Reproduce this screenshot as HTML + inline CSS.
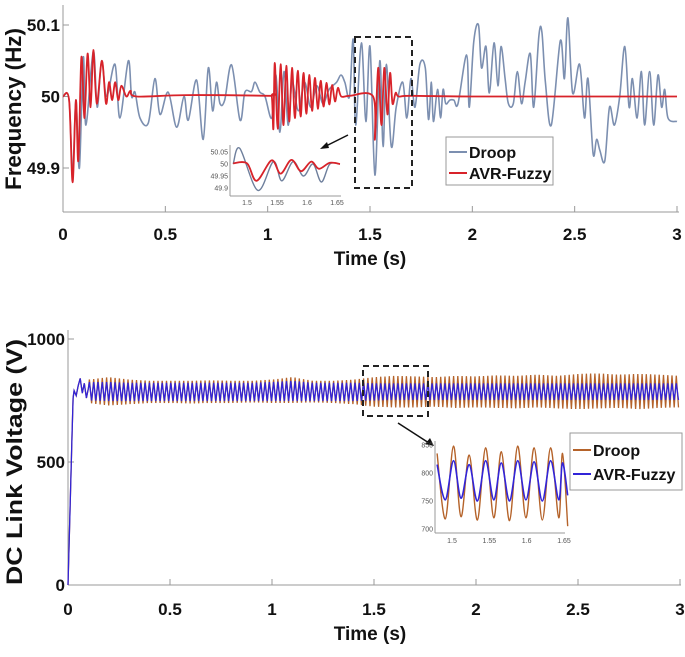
<!DOCTYPE html>
<html><head><meta charset="utf-8"><style>
html,body{margin:0;padding:0;background:#fff;}
svg{display:block;font-family:"Liberation Sans",Arial,sans-serif;}
.tk{font-size:17px;font-weight:bold;fill:#111;}
.ttl{font-size:19px;font-weight:bold;fill:#111;}
.yt{font-size:22px;font-weight:bold;fill:#111;}
.lg{font-size:16px;font-weight:bold;fill:#111;}
.it{font-size:7px;fill:#555;}
</style></head><body>
<svg id="chart" width="685" height="657" viewBox="0 0 685 657"></svg>
<script>
// ---------- Top plot data (frequency, Hz) ----------
const droopT=[0,0.03,0.047,0.063,0.08,0.099,0.112,0.148,0.167,0.189,0.213,0.254,0.278,0.319,0.335,0.352,0.376,0.417,0.449,0.474,0.514,0.555,0.591,0.612,0.653,0.685,0.71,0.731,0.75,0.767,0.79,0.824,0.865,0.889,0.921,0.938,0.962,0.987,1.02,1.04,1.06,1.08,1.10,1.12,1.15,1.18,1.21,1.24,1.27,1.30,1.337,1.358,1.377,1.40,1.418,1.43,1.458,1.48,1.50,1.524,1.548,1.564,1.58,1.604,1.628,1.66,1.68,1.70,1.72,1.744,1.77,1.786,1.80,1.81,1.83,1.845,1.857,1.87,1.89,1.91,1.93,1.972,1.985,2.007,2.03,2.045,2.067,2.083,2.106,2.125,2.14,2.16,2.176,2.20,2.22,2.24,2.258,2.283,2.30,2.325,2.34,2.357,2.386,2.43,2.45,2.467,2.49,2.524,2.548,2.565,2.59,2.607,2.623,2.647,2.67,2.694,2.72,2.745,2.766,2.782,2.805,2.826,2.842,2.866,2.886,2.907,2.925,2.94,2.956,3.0];
const droopF=[50,49.995,49.89,49.995,49.9,50.055,49.96,50.063,49.985,50.05,50.0,50.045,49.97,50.05,50.0,50.006,49.97,49.963,50.025,49.975,50.006,49.957,50.0,49.967,50.023,49.94,50.04,49.98,50.02,49.99,49.995,50.044,49.967,50.006,50.007,50.02,50.006,50.0,49.97,50.03,49.95,50.035,49.96,50.02,49.98,50.02,49.985,50.015,49.99,50.01,50.02,50.03,50.02,50.0,50.08,49.96,50.075,49.965,50.07,49.89,50.05,49.93,50.045,49.93,49.985,50.02,49.97,50.025,49.985,50.045,50.04,49.968,50.02,49.965,50.01,49.97,50.01,49.99,49.995,49.995,49.99,50.058,49.985,50.077,50.1,50.04,50.07,50.005,50.075,50.015,50.07,50.025,49.99,49.99,50.035,49.99,50.02,50.06,49.985,50.085,50.09,50.02,49.96,50.078,50.025,50.11,50.005,50.045,49.97,50.025,49.92,49.94,49.925,49.91,49.985,49.96,50.0,50.07,49.985,50.025,49.97,50.035,49.96,50.035,49.96,50.03,49.985,50.01,49.97,49.965];
const avrT=[0,0.03,0.047,0.063,0.075,0.09,0.105,0.12,0.135,0.148,0.165,0.19,0.21,0.225,0.24,0.255,0.27,0.285,0.31,0.33,0.36,0.6,1.0,1.02,1.028,1.035,1.049,1.063,1.077,1.091,1.105,1.119,1.133,1.147,1.161,1.175,1.189,1.203,1.217,1.231,1.245,1.259,1.273,1.287,1.301,1.315,1.329,1.343,1.36,1.4,1.515,1.524,1.54,1.556,1.57,1.585,1.598,1.61,1.625,1.64,1.7,2.0,2.5,3.0];
const avrF=[50,49.995,49.88,49.995,49.91,50.055,49.97,50.06,49.985,50.065,49.99,50.05,49.99,50.02,49.995,50.02,49.995,50.015,50.0,50.008,50.0,50.002,50.001,50.0,49.955,50.047,49.955,50.045,49.96,50.043,49.965,50.04,49.97,50.036,49.972,50.033,49.976,50.03,49.98,50.026,49.983,50.022,49.986,50.019,49.989,50.016,49.993,50.012,50.0,50.001,50.0,49.94,50.04,49.96,50.04,49.975,50.033,49.99,50.005,50.0,50.001,50.0,50.0,50.0];
const freqTicks=[49.9,50,50.1];
const freqTickLabels=["49.9","50","50.1"];
const timeTicks=[0,0.5,1,1.5,2,2.5,3];
const timeTickLabels=["0","0.5","1","1.5","2","2.5","3"];
// inset (top)
const insDroopT=[1.477,1.488,1.518,1.544,1.558,1.577,1.594,1.61,1.624,1.638,1.655];
const insDroopF=[50,50.065,49.89,50.01,49.93,50.01,49.95,50.0,49.925,50.0,50.0];
const insAvrT=[1.477,1.5,1.516,1.541,1.556,1.574,1.59,1.607,1.62,1.638,1.655];
const insAvrF=[50.003,50.003,49.93,50.015,49.96,50.017,49.97,50.01,49.98,50.005,50.0];
const insFTicks=[49.9,49.95,50,50.05];
const insFLabels=["49.9","49.95","50","50.05"];
const insTTicks=[1.5,1.55,1.6,1.65];
const insTLabels=["1.5","1.55","1.6","1.65"];
// ---------- Bottom plot data (DC link voltage, V) ----------
const startT=[0,0.01,0.02,0.025,0.03,0.04,0.05,0.06,0.07,0.08,0.09,0.1];
const startV=[0,300,620,760,790,770,810,840,780,820,760,800];
const envT=[0.1,0.2,0.3,0.4,0.5,0.6,0.7,0.8,0.9,1.0,1.1,1.2,1.3,1.4,1.5,1.6,1.7,1.8,1.9,2.0,2.1,2.2,2.3,2.4,2.5,2.6,2.7,2.8,2.9,3.0];
const droopHi=[835,845,835,830,830,830,832,830,830,835,845,830,830,835,845,850,848,845,850,848,852,850,855,850,858,860,855,858,855,850];
const droopLo=[740,730,735,740,740,738,740,740,742,740,740,742,740,735,725,722,722,725,720,722,720,718,722,718,715,718,720,715,720,722];
const fuzzyHi=[825,825,822,822,822,822,822,822,822,825,830,822,822,822,820,820,820,820,820,820,820,820,820,820,820,820,820,820,820,820];
const fuzzyLo=[750,748,748,748,748,748,748,748,748,748,748,748,748,748,750,752,752,752,752,752,752,752,752,752,752,752,752,752,752,752];
const voltTicks=[0,500,1000];
const voltTickLabels=["0","500","1000"];
const insVT=[1.48,1.491,1.502,1.512,1.523,1.534,1.545,1.556,1.566,1.577,1.588,1.599,1.61,1.621,1.632,1.643,1.648,1.655];
const insDroopV=[835,718,848,722,832,716,845,720,838,715,848,720,845,716,845,720,835,705];
const insFuzzyV=[815,752,822,755,815,750,822,752,818,750,822,752,820,750,822,752,818,760];
const insVTicks=[700,750,800,850];
const insVLabels=["700","750","800","850"];

(function(){
const NS="http://www.w3.org/2000/svg";
const svg=document.getElementById('chart');
function mk(tag,attrs,parent){const e=document.createElementNS(NS,tag);for(const k in attrs)e.setAttribute(k,attrs[k]);(parent||svg).appendChild(e);return e;}
function txt(s,attrs,parent){const e=mk('text',attrs,parent);e.textContent=s;return e;}
function smoothPath(xs,ys){const n=Math.min(xs.length,ys.length);let d='M'+xs[0].toFixed(1)+','+ys[0].toFixed(1);for(let i=0;i<n-1;i++){const x0=xs[Math.max(0,i-1)],y0=ys[Math.max(0,i-1)],x1=xs[i],y1=ys[i],x2=xs[i+1],y2=ys[i+1],x3=xs[Math.min(n-1,i+2)],y3=ys[Math.min(n-1,i+2)];const c1x=x1+(x2-x0)/6,c1y=y1+(y2-y0)/6,c2x=x2-(x3-x1)/6,c2y=y2-(y3-y1)/6;d+=' C'+c1x.toFixed(1)+','+c1y.toFixed(1)+' '+c2x.toFixed(1)+','+c2y.toFixed(1)+' '+x2.toFixed(1)+','+y2.toFixed(1);}return d;}
function lin(d0,d1,r0,r1){return v=>r0+(v-d0)/(d1-d0)*(r1-r0);}

// ===== TOP =====
const tx=lin(0,3,63,677), fy=lin(49.9,50.1,168,25);
const topG=mk('g',{});


let a=mk('line',{x1:63,y1:5,x2:63,y2:212,stroke:'#999','stroke-width':1},topG);


a=mk('line',{x1:63,y1:212,x2:679,y2:212,stroke:'#999','stroke-width':1},topG);


timeTicks.forEach((t,i)=>{const x=tx(t);mk('line',{x1:x,y1:212,x2:x,y2:206,stroke:'#999'},topG);const l=txt(timeTickLabels[i],{x:x,y:240,'text-anchor':'middle',class:'tk'},topG);

});
freqTicks.forEach((f,i)=>{const y=fy(f);mk('line',{x1:63,y1:y,x2:69,y2:y,stroke:'#999'},topG);const l=txt(freqTickLabels[i],{x:60,y:y+6,'text-anchor':'end',class:'tk'},topG);

});
let t1=txt('Time (s)',{x:370,y:265,'text-anchor':'middle',class:'ttl'},topG);


t1=txt('Frequency (Hz)',{x:0,y:0,'text-anchor':'middle',class:'yt',textLength:162,lengthAdjust:'spacingAndGlyphs',transform:'translate(21,109) rotate(-90)'},topG);


let p=mk('path',{d:smoothPath(droopT.map(tx),droopF.map(fy)),fill:'none',stroke:'#7c8fb0','stroke-width':1.6},topG);


p=mk('path',{d:smoothPath(avrT.map(tx),avrF.map(fy)),fill:'none',stroke:'#d8232a','stroke-width':1.8},topG);


let r=mk('rect',{x:355,y:37,width:57,height:151,fill:'none',stroke:'#222','stroke-width':2,'stroke-dasharray':'6,4'},topG);


let ar=mk('line',{x1:348,y1:135,x2:324,y2:147,stroke:'#111','stroke-width':1.5},topG);


mk('polygon',{points:'320,149 327,142 329,148',fill:'#111'},topG);
const ix=lin(1.5,1.65,247,337), iy=lin(49.9,50.05,188,152);
const ins=mk('g',{},topG);


mk('line',{x1:230,y1:145,x2:230,y2:196,stroke:'#999'},ins); mk('line',{x1:230,y1:196,x2:341,y2:196,stroke:'#999'},ins);
insFTicks.forEach((f,i)=>{const l=txt(insFLabels[i],{x:228,y:iy(f)+2.5,'text-anchor':'end',class:'it'},ins);

});
insTTicks.forEach((t,i)=>{const l=txt(insTLabels[i],{x:ix(t),y:205,'text-anchor':'middle',class:'it'},ins);

});
p=mk('path',{d:smoothPath(insDroopT.map(ix),insDroopF.map(iy)),fill:'none',stroke:'#6e7f9c','stroke-width':1.4},ins);


p=mk('path',{d:smoothPath(insAvrT.map(ix),insAvrF.map(iy)),fill:'none',stroke:'#d8232a','stroke-width':1.8},ins);


const lg=mk('g',{},topG);


mk('rect',{x:446,y:137,width:107,height:48,fill:'#fff',stroke:'#999'},lg);
mk('line',{x1:449,y1:152,x2:467,y2:152,stroke:'#7c8fb0','stroke-width':2},lg);
let le=txt('Droop',{x:469,y:158,class:'lg'},lg);


mk('line',{x1:449,y1:173,x2:467,y2:173,stroke:'#d8232a','stroke-width':2},lg);
le=txt('AVR-Fuzzy',{x:469,y:179,class:'lg'},lg);



// ===== BOTTOM =====
const bx=lin(0,3,68,680), vy=lin(0,1000,585,339);
const bot=mk('g',{});


a=mk('line',{x1:68,y1:330,x2:68,y2:585,stroke:'#999'},bot);


a=mk('line',{x1:68,y1:585,x2:681,y2:585,stroke:'#999'},bot);


timeTicks.forEach((t,i)=>{const x=bx(t);mk('line',{x1:x,y1:585,x2:x,y2:579,stroke:'#999'},bot);const l=txt(timeTickLabels[i],{x:x,y:615,'text-anchor':'middle',class:'tk'},bot);

});
voltTicks.forEach((v,i)=>{const y=vy(v);mk('line',{x1:68,y1:y,x2:74,y2:y,stroke:'#999'},bot);const l=txt(voltTickLabels[i],{x:65,y:y+6,'text-anchor':'end',class:'tk'},bot);

});
t1=txt('Time (s)',{x:370,y:640,'text-anchor':'middle',class:'ttl'},bot);


t1=txt('DC Link Voltage (V)',{x:0,y:0,'text-anchor':'middle',class:'yt',textLength:246,lengthAdjust:'spacingAndGlyphs',transform:'translate(22,462) rotate(-90)'},bot);


function envAt(arr,t){if(t<=envT[0])return arr[0];for(let i=0;i<envT.length-1;i++){if(t<=envT[i+1]){const f=(t-envT[i])/(envT[i+1]-envT[i]);return arr[i]+f*(arr[i+1]-arr[i]);}}return arr[arr.length-1];}
function zig(hi,lo,phase){let pts=startT.map((t,i)=>[bx(t),vy(startV[i])]);let k=phase;for(let t=0.105;t<=3.0001;t+=0.0105){pts.push([bx(t),vy(k%2===0?envAt(hi,t):envAt(lo,t))]);k++;}return pts.map(q=>q[0].toFixed(1)+','+q[1].toFixed(1)).join(' ');}
p=mk('polyline',{points:zig(droopHi,droopLo,0),fill:'none',stroke:'#b5632a','stroke-width':1.3},bot);


p=mk('polyline',{points:zig(fuzzyHi,fuzzyLo,0),fill:'none',stroke:'#3124d8','stroke-width':1.3},bot);


r=mk('rect',{x:363,y:366,width:65,height:50,fill:'none',stroke:'#222','stroke-width':2,'stroke-dasharray':'6,4'},bot);


ar=mk('line',{x1:398,y1:423,x2:429,y2:443,stroke:'#111','stroke-width':1.5},bot);


mk('polygon',{points:'434,446 425,444 430,438',fill:'#111'},bot);
const bix=lin(1.5,1.65,452,564), biy=lin(700,850,529,445);
const bins=mk('g',{},bot);


mk('line',{x1:435,y1:441,x2:435,y2:533,stroke:'#999'},bins); mk('line',{x1:435,y1:533,x2:565,y2:533,stroke:'#999'},bins);
insVTicks.forEach((v,i)=>{const l=txt(insVLabels[i],{x:433,y:biy(v)+2.5,'text-anchor':'end',class:'it'},bins);

});
insTTicks.forEach((t,i)=>{const l=txt(insTLabels[i],{x:bix(t),y:543,'text-anchor':'middle',class:'it'},bins);

});
p=mk('path',{d:smoothPath(insVT.map(bix),insDroopV.map(biy)),fill:'none',stroke:'#b5632a','stroke-width':1.4},bins);


p=mk('path',{d:smoothPath(insVT.map(bix),insFuzzyV.map(biy)),fill:'none',stroke:'#3124d8','stroke-width':1.6},bins);


const lg2=mk('g',{},bot);


mk('rect',{x:570,y:433,width:112,height:57,fill:'#fff',stroke:'#999'},lg2);
mk('line',{x1:573,y1:450,x2:591,y2:450,stroke:'#b5632a','stroke-width':2},lg2);
le=txt('Droop',{x:593,y:456,class:'lg'},lg2);


mk('line',{x1:573,y1:474,x2:591,y2:474,stroke:'#3124d8','stroke-width':2},lg2);
le=txt('AVR-Fuzzy',{x:593,y:480,class:'lg'},lg2);


})();
</script>
</body></html>
